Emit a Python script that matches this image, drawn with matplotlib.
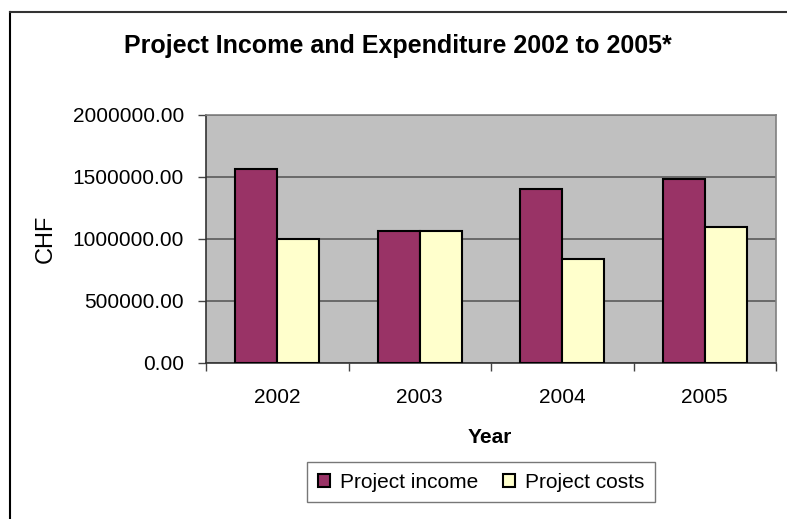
import numpy as np
import matplotlib
matplotlib.use("Agg")
from matplotlib import pyplot as plt
from matplotlib.lines import Line2D

years = ["2002", "2003", "2004", "2005"]
income = [1565000, 1065000, 1403000, 1484000]
costs = [1002000, 1065000, 839000, 1097000]

plt.rcParams['font.family'] = ['Liberation Sans', 'DejaVu Sans']

W, H = 787, 519
fig = plt.figure(figsize=(W / 100, H / 100), dpi=100)
ax = fig.add_axes([206 / W, 1 - 363 / H, (776 - 206) / W, (363 - 115) / H])

x = np.arange(len(years))
w = 0.295
ax.bar(x - w, income, w, align='edge', color='#993366', edgecolor='black', linewidth=1.5,
       label='Project income', zorder=3)
ax.bar(x, costs, w, align='edge', color='#FFFFCC', edgecolor='black', linewidth=1.5,
       label='Project costs', zorder=3)

ax.set_facecolor('#C0C0C0')
ax.set_xlim(-0.5, 3.5)
ax.set_ylim(0, 2000000)
ax.set_yticks(np.arange(0, 2000001, 500000))
ax.set_yticklabels(["%.2f" % v for v in np.arange(0, 2000001, 500000)], fontsize=15)
ax.yaxis.grid(True, color='#5a5a5a', linewidth=1.2, zorder=0)
ax.set_axisbelow(True)

ax.set_xticks(np.arange(-0.5, 4, 1))
ax.set_xticklabels([])
ax.set_xticks(x, minor=True)
ax.set_xticklabels(years, minor=True, fontsize=15)
ax.tick_params(axis='x', which='minor', length=0, pad=18)
ax.tick_params(axis='x', which='major', length=6, width=1, color='#444444')
ax.tick_params(axis='y', length=6, width=1, color='#444444', pad=10)

for s in ['top', 'right']:
    ax.spines[s].set_color('#808080')
    ax.spines[s].set_linewidth(1.2)
for s in ['left', 'bottom']:
    ax.spines[s].set_color('#333333')
    ax.spines[s].set_linewidth(1.2)

fig.text(398 / W, 1 - 53 / H, "Project Income and Expenditure 2002 to 2005*",
         ha='center', va='baseline', fontsize=18, fontweight='bold')
fig.text(46 / W, 1 - 239 / H, "CHF", rotation=90, ha='center', va='center', fontsize=17)
fig.text(490 / W, 1 - 443 / H, "Year", ha='center', va='baseline', fontsize=15,
         fontweight='bold')

leg = fig.legend(loc='center', bbox_to_anchor=(481 / W, 1 - 482 / H), ncol=2, fontsize=15,
                 frameon=True, fancybox=False, edgecolor='#555555', handlelength=0.6,
                 handleheight=0.6, handletextpad=0.45, columnspacing=1.2, borderpad=0.5,
                 borderaxespad=0)
leg.get_frame().set_linewidth(1.0)

fig.add_artist(Line2D([10 / W, 10 / W], [1 - 12 / H, 0], transform=fig.transFigure,
                      color='black', linewidth=1.5))
fig.add_artist(Line2D([10 / W, 1], [1 - 12 / H, 1 - 12 / H], transform=fig.transFigure,
                      color='#333333', linewidth=1.5))

fig.savefig("out.png", dpi=100)
